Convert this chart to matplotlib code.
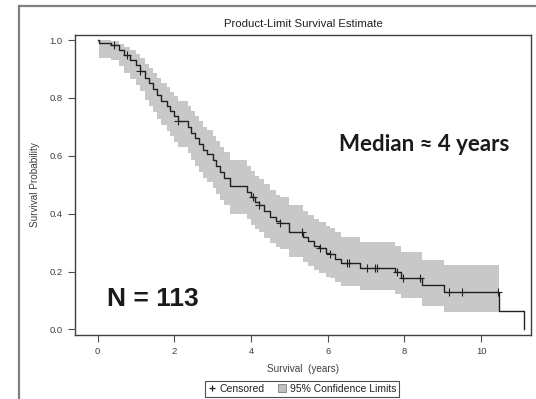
import numpy as np
import matplotlib
matplotlib.use('Agg')
from matplotlib import pyplot as plt
from matplotlib.lines import Line2D
from matplotlib.patches import Patch

# event times (years) and product-limit estimate after each event
event_times = [0.05, 0.35, 0.55, 0.70, 0.85, 1.00, 1.10, 1.25, 1.35, 1.45,
               1.55, 1.65, 1.80, 1.90, 2.00, 2.10, 2.37, 2.45, 2.55, 2.65,
               2.75, 2.85, 3.00, 3.10, 3.20, 3.30, 3.45, 3.90, 4.00, 4.10,
               4.20, 4.35, 4.50, 4.65, 4.75, 4.98, 5.35, 5.50, 5.65, 5.78,
               5.95, 6.05, 6.20, 6.35, 6.84, 7.76, 7.92, 8.45, 9.02, 10.47,
               11.12]
survival = [0.991, 0.982, 0.965, 0.947, 0.930, 0.912, 0.894, 0.868, 0.850, 0.830,
            0.810, 0.790, 0.773, 0.755, 0.737, 0.720, 0.700, 0.680, 0.660, 0.640,
            0.620, 0.605, 0.585, 0.565, 0.545, 0.525, 0.496, 0.476, 0.457, 0.440,
            0.430, 0.410, 0.390, 0.375, 0.368, 0.338, 0.320, 0.305, 0.290, 0.280,
            0.265, 0.260, 0.245, 0.229, 0.211, 0.198, 0.179, 0.154, 0.128, 0.065,
            0.0]
# 95% confidence limits (up to the step at 9.02)
lower_cl = [0.939, 0.930, 0.910, 0.887, 0.865, 0.845, 0.823, 0.793, 0.772, 0.750,
            0.727, 0.705, 0.686, 0.667, 0.647, 0.629, 0.608, 0.587, 0.566, 0.545,
            0.524, 0.509, 0.489, 0.469, 0.449, 0.429, 0.400, 0.381, 0.362, 0.346,
            0.336, 0.317, 0.298, 0.284, 0.277, 0.249, 0.232, 0.218, 0.205, 0.196,
            0.183, 0.178, 0.165, 0.151, 0.136, 0.124, 0.108, 0.082, 0.061]
upper_cl = [0.999, 0.996, 0.987, 0.976, 0.964, 0.952, 0.938, 0.917, 0.903, 0.887,
            0.870, 0.853, 0.838, 0.822, 0.806, 0.791, 0.773, 0.755, 0.737, 0.719,
            0.701, 0.688, 0.669, 0.651, 0.632, 0.613, 0.586, 0.566, 0.548, 0.531,
            0.521, 0.501, 0.481, 0.466, 0.459, 0.429, 0.411, 0.396, 0.381, 0.371,
            0.356, 0.351, 0.336, 0.320, 0.302, 0.288, 0.268, 0.240, 0.223]
band_end = 10.47
censored = [0.42, 0.78, 1.12, 2.11, 4.06, 4.22, 4.76, 5.32, 5.80, 6.06, 6.50,
            6.56, 7.02, 7.24, 7.29, 7.80, 7.96, 8.41, 9.15, 9.51, 10.43]

W, H = 536, 399
fig = plt.figure(figsize=(W / 100, H / 100), dpi=100)
ax = fig.add_axes([74.6 / W, 1 - 335 / H, (531 - 74.6) / W, (335 - 34.6) / H])

grey_txt = '#404040'
font = 'Liberation Sans'

t_all = np.array([0.0] + event_times)
s_all = np.array([1.0] + survival)

n_band = len(lower_cl)
bx = np.concatenate([[0.0], event_times[:n_band], [band_end]])
blo = np.concatenate([[1.0], lower_cl, [lower_cl[-1]]])
bhi = np.concatenate([[1.0], upper_cl, [upper_cl[-1]]])
ax.fill_between(bx, blo, bhi, step='post', color='#c8c8c8', linewidth=0)

ax.step(t_all, s_all, where='post', color='#202020', linewidth=1.0)

idx = np.searchsorted(t_all, censored, side='right') - 1
ax.plot(censored, s_all[idx], linestyle='none', marker='+', color='#202020',
        markersize=5.5, markeredgewidth=0.8)

ax.set_xlim(-0.597, 11.30)
ax.set_ylim(-0.019, 1.0187)
ax.set_xticks([0, 2, 4, 6, 8, 10])
ax.set_yticks([0.0, 0.2, 0.4, 0.6, 0.8, 1.0])
ax.set_yticklabels(['0.0', '0.2', '0.4', '0.6', '0.8', '1.0'])
ax.tick_params(direction='out', length=5, width=0.8, colors='#505050',
               labelsize=6.8, labelcolor=grey_txt)
for lab in ax.get_xticklabels() + ax.get_yticklabels():
    lab.set_fontfamily(font)
for sp in ax.spines.values():
    sp.set_color('#404040')
    sp.set_linewidth(1.0)

ax.set_xlabel('Survival  (years)', fontsize=7.2, color=grey_txt, family=font,
              labelpad=6)
ax.set_ylabel('Survival Probability', fontsize=7.2, color=grey_txt, family=font,
              labelpad=7)
fig.text(303 / W, 1 - 24 / H, 'Product-Limit Survival Estimate', ha='center',
         va='center', fontsize=8.2, color='#202020', family=font)

fig.text(509 / W, 1 - 145 / H, 'Median \u2248 4 years', ha='right', va='center',
         fontsize=16, fontweight='bold', color='#1a1a1a', family='Lato')
fig.text(107 / W, 1 - 299 / H, 'N = 113', ha='left', va='center',
         fontsize=19, fontweight='bold', color='#1a1a1a', family=font)

handles = [Line2D([], [], linestyle='none', marker='+', color='#202020',
                  markersize=5, markeredgewidth=0.9),
           Patch(facecolor='#c0c0c0', edgecolor='#808080', linewidth=0.6)]
leg = fig.legend(handles, ['Censored', '95% Confidence Limits'], ncol=2,
                 loc='center', bbox_to_anchor=(302 / W, 1 - 389 / H),
                 frameon=True, fancybox=False, handlelength=0.8,
                 handleheight=0.8, handletextpad=0.4, columnspacing=1.2,
                 borderpad=0.25, borderaxespad=0,
                 prop={'family': font, 'size': 7.5})
leg.get_frame().set_edgecolor('#202020')
leg.get_frame().set_linewidth(0.8)
for txt in leg.get_texts():
    txt.set_color('#202020')

# outer frame (cut off at the right and bottom)
fig.add_artist(Line2D([18.8 / W, 18.8 / W], [0, 1 - 5.5 / H], color='#808080',
                      linewidth=1.6, transform=fig.transFigure))
fig.add_artist(Line2D([18.8 / W, 1], [1 - 5.5 / H, 1 - 5.5 / H], color='#808080',
                      linewidth=1.6, transform=fig.transFigure))

fig.savefig('out.png', dpi=100)
